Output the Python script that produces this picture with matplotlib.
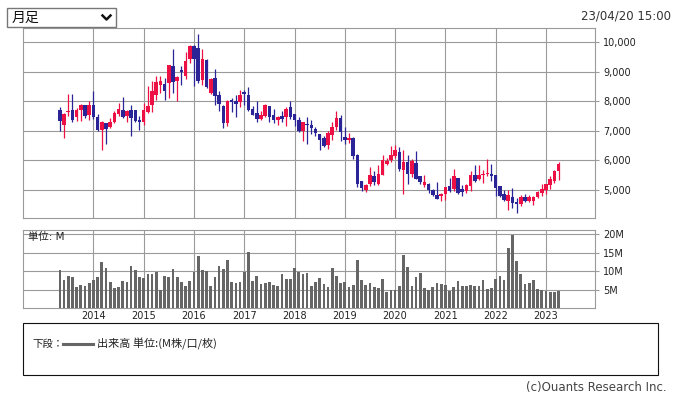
import matplotlib
matplotlib.use('Agg')
import matplotlib.pyplot as plt
from matplotlib.patches import Rectangle
from matplotlib.lines import Line2D
import numpy as np
import pandas as pd

plt.rcParams['font.family'] = ['DejaVu Sans', 'Noto Sans CJK JP']

# 月足データ 2013/05 - 2023/04
months = pd.period_range('2013-05', '2023-04', freq='M')

opens = [7714, 7185, 7624, 7714, 7455, 7692, 7883, 7523, 7883, 7467,
         7016, 7264, 7118, 7298, 7579, 7714, 7489, 7714, 7714, 7377,
         7286, 7624, 7883, 8198, 8559, 8593, 8615, 9201, 8671, 9054,
         8840, 9426, 9854, 9820, 8705, 9403, 8277, 8784, 8221, 7849,
         7264, 8052, 7996, 7962, 8300, 8221, 7748, 7602, 7399, 7512,
         7849, 7545, 7354, 7512, 7467, 7793, 7579, 7377, 6982, 7241,
         7208, 7072, 6903, 6757, 6532, 6869, 7129, 7433, 6791, 6701,
         6757, 6183, 5316, 4989, 5203, 5462, 5214, 5518, 5890, 6003,
         6138, 6273, 5665, 5946, 5552, 5913, 5462, 5181, 5214, 5012,
         4843, 4787, 4854, 5147, 5034, 5406, 5046, 4955, 5125, 5518,
         5372, 5496, 5530, 5552, 5496, 5125, 4877, 4618, 4764, 4584,
         4528, 4764, 4618, 4618, 4753, 4899, 5012, 5181, 5293, 5631]
highs = [7804, 7602, 8255, 8255, 7770, 7917, 7883, 7996, 8356, 7579,
         7320, 7264, 7433, 7658, 7940, 8142, 7714, 7883, 7714, 7512,
         7940, 8502, 8694, 8863, 8852, 8784, 9234, 9775, 8863, 9178,
         9662, 9910, 9910, 10281, 9775, 9437, 8784, 9099, 8334, 7883,
         8052, 8108, 8221, 8390, 8390, 8469, 7849, 7996, 7658, 7917,
         7849, 7748, 7489, 7681, 7793, 7996, 7579, 7467, 7286, 7467,
         7377, 7129, 6903, 6836, 6982, 7298, 7681, 7545, 7129, 6926,
         6791, 6205, 5316, 5215, 5766, 5631, 5856, 6194, 6082, 6498,
         6532, 6442, 6363, 6194, 6059, 6329, 5462, 5496, 5237, 5045,
         5271, 4899, 5102, 5406, 5710, 5406, 5181, 5203, 5654, 5856,
         5856, 5665, 6048, 5890, 5496, 5125, 5012, 5012, 5068, 4730,
         4843, 4877, 4820, 4787, 4978, 5203, 5214, 5462, 5665, 5946]
lows = [6982, 6746, 7512, 7286, 7320, 7320, 7433, 7377, 7399, 6982,
        6363, 6566, 7095, 7264, 7489, 7433, 7286, 6813, 7286, 7039,
        7185, 7602, 7624, 8052, 8277, 8030, 8108, 8277, 7996, 8559,
        8750, 9291, 8502, 8615, 8559, 8446, 8255, 7883, 7658, 7095,
        7151, 7624, 7455, 7804, 7883, 7681, 7523, 7286, 7354, 7467,
        7286, 7264, 7185, 7286, 7174, 7399, 7174, 6948, 6644, 6566,
        6892, 6836, 6340, 6453, 6397, 6678, 7016, 6644, 6566, 6588,
        6059, 5102, 4955, 4922, 5147, 5181, 5158, 5496, 5856, 5946,
        6082, 5631, 4854, 5214, 5440, 5383, 5214, 5102, 4899, 4787,
        4708, 4618, 4674, 4933, 4955, 4877, 4787, 4899, 4978, 5259,
        5350, 5237, 5462, 5293, 4809, 4764, 4618, 4314, 4393, 4224,
        4449, 4584, 4584, 4505, 4730, 4787, 4877, 5046, 5237, 5350]
closes = [7320, 7579, 7681, 7377, 7714, 7883, 7489, 7883, 7455, 7039,
          7298, 7072, 7298, 7602, 7737, 7455, 7681, 7433, 7320, 7286,
          7714, 7827, 8334, 8638, 8694, 8356, 9234, 8649, 8818, 8975,
          9370, 9854, 9426, 8671, 9437, 8480, 8761, 8165, 7917, 7264,
          7996, 7973, 7906, 8221, 8243, 7714, 7523, 7399, 7545, 7883,
          7467, 7377, 7467, 7399, 7748, 7467, 7354, 6982, 7286, 7208,
          7095, 6926, 6701, 6498, 6926, 7129, 7433, 6948, 6701, 6757,
          6138, 5203, 5068, 5181, 5496, 5271, 5552, 6003, 5991, 6194,
          6363, 5721, 5946, 5552, 5991, 5383, 5259, 5259, 5012, 4820,
          4708, 4854, 5102, 4978, 5462, 4899, 4922, 5158, 5518, 5293,
          5496, 5541, 5564, 5462, 5068, 4787, 4674, 4820, 4561, 4528,
          4753, 4618, 4764, 4764, 4933, 5046, 5214, 5383, 5631, 5890]

# 出来高 (M株)
volume = [10.3, 7.65, 8.7, 8.45, 5.8, 6.3, 6.05, 6.85, 7.65, 8.45,
          12.5, 10.85, 7.1, 5.5, 5.8, 7.4, 7.1, 11.4, 10.3, 8.45,
          8.2, 9.25, 9.25, 9.9, 5.0, 8.7, 8.45, 10.6, 8.45, 7.1,
          6.05, 7.4, 9.9, 14.0, 10.3, 10.05, 6.05, 8.45, 11.4, 10.6,
          12.95, 7.1, 6.85, 7.1, 9.9, 15.1, 7.4, 8.7, 6.6, 6.85,
          7.1, 6.3, 6.05, 9.25, 7.9, 7.9, 10.85, 9.9, 9.25, 9.55,
          6.05, 7.1, 8.2, 6.6, 5.8, 10.85, 8.7, 6.85, 7.1, 5.8,
          6.3, 12.95, 7.65, 6.3, 6.85, 5.8, 5.5, 7.9, 4.45, 5.0,
          5.0, 6.05, 14.3, 11.1, 6.05, 8.45, 9.5, 5.5, 5.0, 5.8,
          6.85, 6.6, 6.3, 4.75, 5.8, 7.4, 6.05, 6.05, 6.3, 6.05,
          6.05, 7.65, 5.25, 5.5, 7.9, 8.7, 7.65, 16.15, 19.6, 12.7,
          9.25, 6.6, 6.85, 7.65, 5.25, 5.0, 4.75, 4.45, 4.45, 4.75]

price_ticks = [5000, 6000, 7000, 8000, 9000, 10000]
vol_ticks = [5, 10, 15, 20]

W, H = 678, 396
RED = '#ec1045'
BLUE = '#2b2496'
GRID = '#9a9a9a'


def box(left, top, right, bottom):
    return [left / W, 1 - bottom / H, (right - left) / W, (bottom - top) / H]


fig = plt.figure(figsize=(W / 100, H / 100), dpi=100)

x = np.arange(len(months))
year_pos = [i for i, m in enumerate(months) if m.month == 1]
year_lbl = [str(months[i].year) for i in year_pos]

o = np.array(opens)
c = np.array(closes)
up = c >= o
colors = np.where(up, RED, BLUE)

# 上段: ローソク足
ax = fig.add_axes(box(23, 28, 595, 218))
ax.vlines(x, lows, highs, colors=colors, lw=0.9, zorder=3)
body_h = np.maximum(np.abs(c - o), 25)
ax.bar(x, body_h, bottom=np.minimum(o, c), width=0.85, color=colors,
       lw=0, zorder=4)
ax.set_xlim(-8.8, 127.7)
ax.set_ylim(4050, 10480)
ax.set_yticks(price_ticks)
ax.set_yticklabels([f'{v:,}' for v in price_ticks])
ax.set_xticks(year_pos)
ax.set_xticklabels([])
ax.yaxis.tick_right()
ax.tick_params(axis='y', length=3, color=GRID, labelsize=7, labelcolor='#222', pad=3)
ax.tick_params(axis='x', length=0)
ax.grid(True, color=GRID, lw=0.8, zorder=0)
for s in ax.spines.values():
    s.set_color(GRID)
    s.set_linewidth(0.8)

# 下段: 出来高
axv = fig.add_axes(box(23, 229.5, 595, 308))
axv.bar(x, volume, width=0.65, color='#666666', lw=0, zorder=3)
axv.set_xlim(-8.8, 127.7)
axv.set_ylim(0.2, 21.2)
axv.set_yticks(vol_ticks)
axv.set_yticklabels([f'{v}M' for v in vol_ticks])
axv.set_xticks(year_pos)
axv.set_xticklabels(year_lbl)
axv.yaxis.tick_right()
axv.tick_params(axis='y', length=3, color=GRID, labelsize=7, labelcolor='#222', pad=3)
axv.tick_params(axis='x', length=0, labelsize=7, labelcolor='#222', pad=2.5)
axv.grid(True, color=GRID, lw=0.8, zorder=0)
for s in axv.spines.values():
    s.set_color(GRID)
    s.set_linewidth(0.8)
axv.text(5 / 572, 0.9, '単位: M', transform=axv.transAxes, fontsize=7.5,
         color='#222', va='center', ha='left', zorder=5)

# 足種セレクト
fig.patches.append(Rectangle((7 / W, 1 - 27 / H), 109 / W, 19 / H,
                             transform=fig.transFigure, fill=False,
                             ec='#777777', lw=1))
fig.text(12 / W, 1 - 17.5 / H, '月足', fontsize=10, va='center', ha='left',
         family=['Noto Sans CJK JP', 'DejaVu Sans'], color='#111')
fig.lines.append(Line2D([102.5 / W, 106.5 / W, 110.5 / W],
                        [1 - 15.5 / H, 1 - 19.5 / H, 1 - 15.5 / H],
                        transform=fig.transFigure, color='#111', lw=1.8))

fig.text(671 / W, 1 - 16 / H, '23/04/20 15:00', fontsize=8.5, ha='right',
         va='center', color='#333')

# 凡例
fig.patches.append(Rectangle((23 / W, 1 - 374.5 / H), 635 / W, 52 / H,
                             transform=fig.transFigure, fill=False,
                             ec='#111111', lw=0.8))
fig.text(32 / W, 1 - 344 / H, '下段：', fontsize=7.5, va='center', ha='left',
         family=['Noto Sans CJK JP', 'DejaVu Sans'], color='#222')
fig.lines.append(Line2D([63 / W, 93 / W], [1 - 344 / H, 1 - 344 / H],
                        transform=fig.transFigure, color='#666666', lw=2.2))
fig.text(97 / W, 1 - 344 / H, '出来高 単位:(M株/口/枚)', fontsize=8,
         va='center', ha='left', family=['Noto Sans CJK JP', 'DejaVu Sans'],
         color='#222')

fig.text(667 / W, 1 - 387 / H, '(c)Ouants Research Inc.', fontsize=8.5,
         ha='right', va='center', color='#444')

fig.savefig('out.png', dpi=100)
